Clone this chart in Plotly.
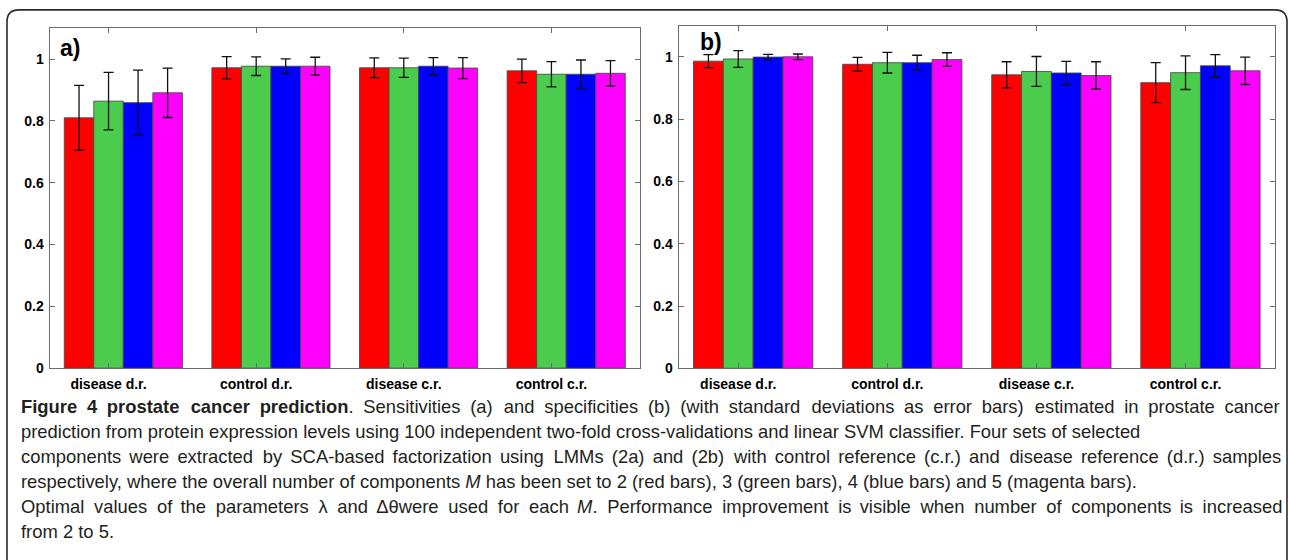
import plotly.graph_objects as go

categories = ["disease d.r.", "control d.r.", "disease c.r.", "control c.r."]
series_names = ["M=2", "M=3", "M=4", "M=5"]
series_colors = ["#ff0000", "#4ccc4c", "#0000ff", "#ff00ff"]

# (a) sensitivities
sens_m2 = [0.810, 0.972, 0.972, 0.962]
sens_m3 = [0.864, 0.977, 0.972, 0.951]
sens_m4 = [0.859, 0.977, 0.977, 0.951]
sens_m5 = [0.891, 0.977, 0.971, 0.954]
sens_sd_m2 = [0.105, 0.036, 0.032, 0.038]
sens_sd_m3 = [0.093, 0.030, 0.031, 0.041]
sens_sd_m4 = [0.105, 0.024, 0.028, 0.046]
sens_sd_m5 = [0.080, 0.029, 0.034, 0.041]

# (b) specificities
spec_m2 = [0.986, 0.976, 0.942, 0.917]
spec_m3 = [0.993, 0.981, 0.953, 0.949]
spec_m4 = [0.999, 0.981, 0.948, 0.971]
spec_m5 = [1.000, 0.991, 0.940, 0.955]
spec_sd_m2 = [0.021, 0.022, 0.042, 0.064]
spec_sd_m3 = [0.027, 0.033, 0.048, 0.054]
spec_sd_m4 = [0.009, 0.024, 0.037, 0.036]
spec_sd_m5 = [0.009, 0.022, 0.044, 0.044]

ytick_vals = [0, 0.2, 0.4, 0.6, 0.8, 1.0]
ytick_text = ["0", "0.2", "0.4", "0.6", "0.8", "1"]

caption_lines = [
    "<b>Figure 4 prostate cancer prediction</b>. Sensitivities (a) and specificities (b) (with standard deviations as error bars) estimated in prostate cancer",
    "prediction from protein expression levels using 100 independent two-fold cross-validations and linear SVM classifier. Four sets of selected",
    "components were extracted by SCA-based factorization using LMMs (2a) and (2b) with control reference (c.r.) and disease reference (d.r.) samples",
    "respectively, where the overall number of components <i>M</i> has been set to 2 (red bars), 3 (green bars), 4 (blue bars) and 5 (magenta bars).",
    "Optimal values of the parameters λ and Δθwere used for each <i>M</i>. Performance improvement is visible when number of components is increased",
    "from 2 to 5.",
]

W, H = 1290, 560
def px(x):
    return x / W
def py(y):
    return 1 - y / H

CAP_SIZE = 18.4

def justify(line, extra_px):
    """Widen the word gaps of a caption line with thin Unicode spaces (text justification)."""
    if extra_px <= 0:
        return line
    words = line.split(" ")
    gaps = len(words) - 1
    opts = [("", 0.0), ("\u2006", CAP_SIZE / 6), ("\u2005", CAP_SIZE / 4),
            ("\u2006\u2006", CAP_SIZE / 3), ("\u2005\u2006", CAP_SIZE * 5 / 12)]
    out = words[0]
    acc = 0.0
    for k in range(1, gaps + 1):
        target = extra_px * k / gaps
        best = min(opts, key=lambda o: abs(acc + o[1] - target))
        acc += best[1]
        out += " " + best[0] + words[k]
    return out

caption_extra = [94, 0, 65, 0, 89, 0]

fig = go.Figure()

sens = [sens_m2, sens_m3, sens_m4, sens_m5]
sens_sd = [sens_sd_m2, sens_sd_m3, sens_sd_m4, sens_sd_m5]
spec = [spec_m2, spec_m3, spec_m4, spec_m5]
spec_sd = [spec_sd_m2, spec_sd_m3, spec_sd_m4, spec_sd_m5]

bar_w = 0.2
offsets = [-0.3, -0.1, 0.1, 0.3]

for vals, sds, xa, ya in [(sens, sens_sd, "x", "y"), (spec, spec_sd, "x2", "y2")]:
    for i in range(4):
        fig.add_trace(go.Bar(
            x=categories, y=vals[i], name=series_names[i],
            width=bar_w, offset=offsets[i],
            marker=dict(color=series_colors[i], line=dict(color="rgba(70,70,70,0.85)", width=1)),
            error_y=dict(type="data", array=sds[i], color="#111111", thickness=1.3, width=5),
            xaxis=xa, yaxis=ya, showlegend=False, hoverinfo="skip",
        ))

tick_font = dict(family="Liberation Sans, Arial", size=14, color="#000000", weight="bold")

xcommon = dict(type="category", range=[-0.4, 3.6], showline=True, linecolor="#6b6b6b", linewidth=1,
               mirror="ticks", ticks="inside", ticklen=5, tickcolor="#6b6b6b", showgrid=False,
               zeroline=False, tickfont=tick_font, ticklabelstandoff=3)
ycommon = dict(range=[0, 1.1], tickvals=ytick_vals, ticktext=ytick_text, showline=True,
               linecolor="#6b6b6b", linewidth=1, mirror="ticks", ticks="inside", ticklen=5,
               tickcolor="#6b6b6b", showgrid=False, zeroline=False, tickfont=tick_font,
               ticklabelstandoff=2)

fig.update_layout(
    width=W, height=H,
    margin=dict(l=0, r=0, t=0, b=0),
    paper_bgcolor="white", plot_bgcolor="white",
    barmode="overlay",
    xaxis=dict(domain=[px(49.5), px(640)], anchor="y", **xcommon),
    yaxis=dict(domain=[py(373.5), py(28.6)], anchor="x", **ycommon),
    xaxis2=dict(domain=[px(678.6), px(1275)], anchor="y2", **xcommon),
    yaxis2=dict(domain=[py(373.7), py(26)], anchor="x2", **ycommon),
)

panel_font = dict(family="Liberation Sans, Arial", size=23, color="#000000", weight="bold")
fig.add_annotation(text="a)", x=px(58), y=py(33), xref="paper", yref="paper",
                   xanchor="left", yanchor="top", showarrow=False, font=panel_font)
fig.add_annotation(text="b)", x=px(698), y=py(27), xref="paper", yref="paper",
                   xanchor="left", yanchor="top", showarrow=False, font=panel_font)

cap_font = dict(family="Liberation Sans, Arial", size=CAP_SIZE, color="#231f20")
line_y = [412, 438, 463, 488, 514, 539]
for txt, extra, yy in zip(caption_lines, caption_extra, line_y):
    fig.add_annotation(text=justify(txt, extra), x=px(19), y=py(yy), xref="paper", yref="paper",
                       xanchor="left", yanchor="middle", showarrow=False, font=cap_font)

# rounded frame around the figure
x0, x1 = px(7), px(1287)
yt, yb = py(10), py(600)
rx, ry = 12 / W, 12 / H
path = (f"M {x0},{yb} L {x0},{yt - ry} Q {x0},{yt} {x0 + rx},{yt} "
        f"L {x1 - rx},{yt} Q {x1},{yt} {x1},{yt - ry} L {x1},{yb}")
fig.add_shape(type="path", path=path, xref="paper", yref="paper",
              line=dict(color="#2b2b2b", width=1.6))

fig.write_html(
    "out.html",
    config={"displayModeBar": False},
    post_script="document.body.style.margin='0';document.body.style.overflow='hidden';",
)
